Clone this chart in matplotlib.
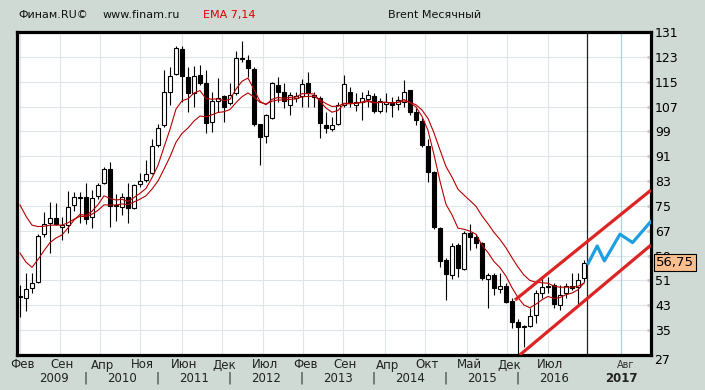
import matplotlib
matplotlib.use("Agg")
import matplotlib.pyplot as plt
import matplotlib.transforms as mtransforms

# ---------------- data (monthly Brent, Feb 2009 .. Dec 2016) ----------------
opens = [45.6, 45.5, 48.5, 50.6, 65.9, 69.4, 71.0, 68.3, 68.9, 75.3,
         77.6, 78.0, 71.5, 78.2, 82.3, 86.8, 74.9, 74.8, 77.8, 74.2,
         82.0, 83.4, 85.5, 94.6, 101.0, 111.8, 117.4, 125.5, 116.6, 111.5,
         117.2, 114.7, 101.9, 108.9, 110.4, 108.2, 111.3, 122.3, 122.0, 119.1,
         101.3, 97.6, 103.2, 113.9, 111.8, 107.5, 109.7, 110.4, 114.7, 110.2,
         109.7, 101.1, 99.7, 101.4, 107.5, 111.8, 107.5, 108.6, 109.3, 110.5,
         105.7, 107.7, 108.4, 107.7, 108.6, 112.3, 105.3, 102.4, 94.3, 85.8,
         67.8, 57.6, 52.8, 62.4, 54.7, 66.4, 65.1, 63.0, 51.4, 52.8,
         48.2, 49.2, 44.5, 37.5, 36.3, 36.3, 39.9, 46.9, 48.9, 49.5,
         43.1, 46.9, 49.2, 49.0, 51.7]
highs = [49.4, 53.3, 53.4, 65.9, 73.1, 76.4, 75.8, 71.5, 79.9, 79.6,
         79.6, 82.5, 80.1, 82.5, 87.6, 89.2, 78.8, 79.1, 82.3, 82.0,
         85.5, 89.8, 96.6, 101.3, 118.8, 119.7, 126.6, 126.6, 119.8, 120.1,
         120.4, 118.8, 111.8, 116.1, 110.7, 114.7, 125.0, 128.1, 123.6, 119.8,
         101.4, 104.5, 115.0, 116.6, 114.5, 111.8, 111.8, 115.9, 118.0, 111.8,
         110.5, 105.3, 103.5, 108.6, 117.2, 113.4, 111.3, 111.8, 112.3, 111.3,
         109.7, 111.5, 110.2, 110.4, 115.5, 112.3, 106.4, 103.2, 96.4, 86.3,
         68.3, 58.1, 63.0, 63.0, 66.8, 69.2, 66.0, 63.5, 53.3, 53.3,
         53.5, 50.1, 45.3, 38.5, 36.6, 42.0, 48.0, 51.9, 52.2, 50.1,
         49.5, 50.1, 53.3, 53.3, 57.6]
lows = [39.3, 41.3, 47.0, 50.2, 65.1, 59.8, 68.9, 64.0, 66.2, 73.4,
        69.4, 69.1, 67.8, 77.1, 82.0, 68.1, 70.0, 72.2, 69.6, 74.0,
        81.2, 82.8, 85.3, 94.1, 100.5, 107.5, 117.2, 108.6, 105.3, 107.0,
        113.9, 98.6, 98.9, 105.3, 102.1, 107.5, 110.7, 121.2, 116.6, 100.8,
        88.2, 95.2, 102.9, 108.6, 106.4, 104.3, 108.6, 107.0, 107.0, 106.8,
        96.8, 98.4, 99.2, 101.1, 107.0, 107.0, 105.7, 102.7, 107.0, 104.8,
        104.8, 105.3, 103.7, 105.9, 107.0, 104.3, 101.1, 93.9, 82.8, 67.6,
        55.4, 44.7, 51.4, 52.2, 54.3, 60.8, 61.4, 51.2, 42.0, 46.3,
        46.9, 43.9, 35.6, 27.1, 29.5, 35.9, 37.4, 45.3, 46.9, 42.0,
        41.5, 45.3, 47.9, 43.1, 50.6]
closes = [45.9, 48.2, 50.1, 65.4, 69.1, 71.0, 69.1, 68.7, 74.6, 78.0,
          77.9, 70.7, 77.5, 81.7, 86.8, 75.0, 75.3, 77.8, 74.2, 81.7,
          83.1, 85.3, 94.4, 100.0, 111.6, 116.8, 125.8, 116.8, 111.5, 116.9,
          114.5, 101.8, 108.8, 109.8, 107.0, 110.7, 122.5, 122.7, 119.3, 101.4,
          97.3, 104.3, 114.5, 111.8, 108.9, 110.7, 110.5, 114.3, 111.3, 110.7,
          101.6, 100.0, 101.1, 107.5, 114.2, 108.0, 108.4, 109.7, 110.7, 105.7,
          108.9, 108.4, 107.5, 109.1, 111.8, 105.3, 102.7, 94.7, 85.8, 68.1,
          57.4, 53.0, 62.1, 54.9, 66.4, 65.1, 63.0, 51.7, 52.8, 48.5,
          49.2, 44.2, 37.5, 35.9, 35.9, 39.6, 46.9, 49.0, 49.1, 43.3,
          46.3, 49.2, 48.5, 51.2, 56.75]

ema_periods = [7, 14]
ema_start = [59.8, 75.3]          # EMA values at the first visible month

y_ticks = [27, 35, 43, 51, 59, 67, 75, 83, 91, 99, 107, 115, 123, 131]
grid_x = [0.0, 6.67, 13.33, 20.0, 27.0, 33.67, 40.5, 47.17, 53.83, 60.83,
          67.5, 74.5, 81.17, 88.0]
month_labels = ["Фев", "Сен", "Апр", "Ноя", "Июн", "Дек", "Июл", "Фев",
                "Сен", "Апр", "Окт", "Май", "Дек", "Июл"]
year_labels = ["2009", "2010", "2011", "2012", "2013", "2014", "2015", "2016"]
year_pos = [5.7, 17.0, 29.0, 41.0, 53.0, 65.0, 77.0, 89.0]
year_sep = [11, 23, 35, 47, 59, 71, 83]

channel_lower_x = [83.3, 105.17]
channel_lower_y = [27.0, 62.4]
channel_upper_x = [82.5, 105.17]
channel_upper_y = [44.7, 80.1]

forecast_x = [94.7, 96.2, 97.4, 100.0, 102.1, 105.1]
forecast_y = [56.5, 62.1, 57.3, 65.9, 63.2, 69.9]

now_x = 94.5
future_x = 100.17
future_month = "Авг"
future_year = "2017"
last_price = 56.75

# ---------------- figure ----------------
W, H = 705, 390
BG = "#cfdad4"
fig = plt.figure(figsize=(W / 100, H / 100), dpi=100, facecolor=BG)
L, R, T, B = 17, 651, 32, 355
ax = fig.add_axes([L / W, (H - B) / H, (R - L) / W, (B - T) / H])
ax.set_facecolor("white")
ax.set_xlim(-0.5, 105.17)
ax.set_ylim(27, 131)

grid_c = "#dde4ea"
ax.hlines(y_ticks[1:-1], -0.5, 105.17, color=grid_c, lw=0.8, zorder=0)
ax.vlines(grid_x, 27, 131, color=grid_c, lw=0.8, zorder=0)
ax.vlines([future_x], 27, 131, color="#a9d2ea", lw=0.9, zorder=0)
ax.vlines([now_x], 27, 131, color="#222222", lw=0.9, zorder=1)

# candles
xs = list(range(len(closes)))
ax.vlines(xs, lows, highs, color="black", lw=0.8, zorder=2)
for x, o, h, l, c in zip(xs, opens, highs, lows, closes):
    bot = min(o, c)
    ht = max(abs(c - o), 0.15)
    ax.bar(x, ht, bottom=bot, width=0.62,
           color="white" if c >= o else "black",
           edgecolor="black", linewidth=0.8, zorder=3)

# EMAs
for per, start in zip(ema_periods, ema_start):
    a = 2.0 / (per + 1)
    vals = [start]
    for c in closes[1:]:
        vals.append(vals[-1] + a * (c - vals[-1]))
    ax.plot(xs, vals, color="#b80000", lw=0.8, zorder=4)

# channel and forecast
ax.plot(channel_lower_x, channel_lower_y, color="#dd2424", lw=2.3,
        zorder=5, solid_capstyle="butt", clip_on=True)
ax.plot(channel_upper_x, channel_upper_y, color="#dd2424", lw=2.3,
        zorder=5, solid_capstyle="butt")
ax.plot(forecast_x, forecast_y, color="#1e9fe2", lw=2.3, zorder=5)

# spines
for s in ax.spines.values():
    s.set_linewidth(2.3)
    s.set_color("black")

# y axis on the right
ax.yaxis.tick_right()
ax.set_yticks(y_ticks)
ax.set_yticklabels([""] + [str(v) for v in y_ticks[1:]])
ax.tick_params(axis="y", direction="in", length=3, width=2, color="#cccccc",
               labelcolor="black", labelsize=9, pad=3)
ax.set_xticks([])

ytr = mtransforms.blended_transform_factory(ax.transAxes, ax.transData)
off = mtransforms.ScaledTranslation(3 / 100, -6 / 100, fig.dpi_scale_trans)
ax.text(1.0, y_ticks[0], str(y_ticks[0]), transform=ytr + off,
        ha="left", va="center", fontsize=9, clip_on=False)

# price box
ax.text(1.0 + 5 / (R - L), last_price, f"{last_price:.2f}".replace(".", ","),
        transform=ytr, ha="left", va="center", fontsize=9.5, zorder=10,
        clip_on=False,
        bbox=dict(boxstyle="square,pad=0.18", fc="#fbbf8f", ec="black", lw=0.8))

# x labels
xtr = mtransforms.blended_transform_factory(ax.transData, ax.transAxes)
row1 = -(365 - B) / (B - T)
row2 = -(378 - B) / (B - T)
for gx, lab in zip(grid_x, month_labels):
    ax.text(gx + 0.4, row1, lab, transform=xtr, ha="center", va="center",
            fontsize=8.5, color="#222222", clip_on=False)
for yp, lab in zip(year_pos, year_labels):
    ax.text(yp, row2, lab, transform=xtr, ha="center", va="center",
            fontsize=8.5, color="#222222", clip_on=False)
for ys in year_sep:
    ax.text(ys, row2, "|", transform=xtr, ha="center", va="center",
            fontsize=8.5, color="#222222", clip_on=False)
ax.text(future_x + 0.7, row1, future_month, transform=xtr, ha="center",
        va="center", fontsize=7, color="#333333", clip_on=False)
ax.text(future_x, row2, future_year, transform=xtr, ha="center",
        va="center", fontsize=8.5, fontweight="bold", color="#222222",
        clip_on=False)

# header
ty = 1 - 15 / H
fig.text(18 / W, ty, "Финам.RU©", fontsize=8, va="center", color="#111111")
fig.text(103 / W, ty, "www.finam.ru", fontsize=8, va="center", color="#111111")
fig.text(203 / W, ty, "EMA 7,14", fontsize=8, va="center", color="#dd0000")
fig.text(388 / W, ty, "Brent Месячный", fontsize=8, va="center", color="#111111")

fig.savefig("out.png", dpi=100, facecolor=BG)
